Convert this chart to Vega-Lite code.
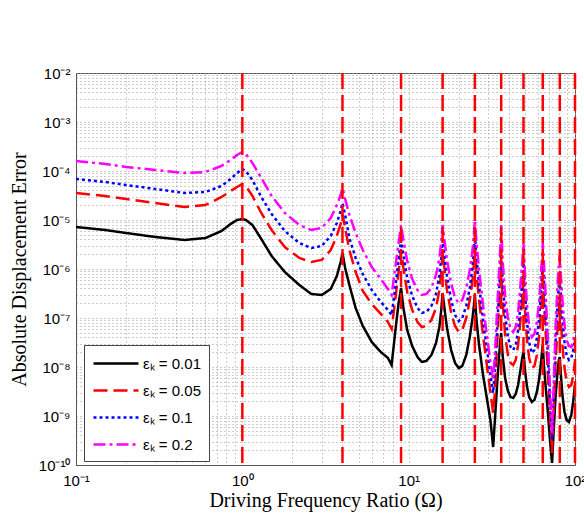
{
  "$schema": "https://vega.github.io/schema/vega-lite/v6.json",
  "width": 499,
  "height": 392,
  "autosize": {"type": "none"},
  "padding": {"left": 76, "top": 73, "right": 9, "bottom": 52},
  "background": "white",
  "config": {
    "view": {"stroke": "#555", "strokeWidth": 1},
    "axis": {
      "labelFont": "Liberation Sans",
      "labelFontSize": 15,
      "labelColor": "#000",
      "labelOverlap": false,
      "labelFlush": false,
      "ticks": false,
      "domainColor": "#555",
      "grid": true,
      "gridDash": [1, 3],
      "gridColor": "#999",
      "gridWidth": 1,
      "titleFont": "Liberation Serif",
      "titleFontSize": 20,
      "titleFontWeight": "normal",
      "titleColor": "#000"
    }
  },
  "datasets": {
    "curves": [
      {"w":0.1,"a":7.2e-6,"b":3.56e-5,"c":6.87e-5,"d":1.6e-4},
      {"w":0.15,"a":6.25e-6,"b":3.09e-5,"c":5.96e-5,"d":1.39e-4},
      {"w":0.2,"a":5.43e-6,"b":2.68e-5,"c":5.18e-5,"d":1.21e-4},
      {"w":0.3,"a":4.5e-6,"b":2.22e-5,"c":4.29e-5,"d":1.05e-4},
      {"w":0.45,"a":3.91e-6,"b":1.84e-5,"c":3.56e-5,"d":9.1e-5},
      {"w":0.6,"a":4.29e-6,"b":2.02e-5,"c":3.73e-5,"d":9.54e-5},
      {"w":0.75,"a":5.96e-6,"b":2.95e-5,"c":4.94e-5,"d":1.27e-4},
      {"w":0.85,"a":8.29e-6,"b":3.91e-5,"c":6.87e-5,"d":1.68e-4},
      {"w":0.93,"a":1e-5,"b":4.72e-5,"c":9.1e-5,"d":2.12e-4},
      {"w":1,"a":1.05e-5,"b":5.43e-5,"c":1.1e-4,"d":2.44e-4},
      {"w":1.05,"a":1e-5,"b":4.94e-5,"c":1e-4,"d":2.22e-4},
      {"w":1.15,"a":7.91e-6,"b":3.09e-5,"c":6.55e-5,"d":1.46e-4},
      {"w":1.3,"a":4.1e-6,"b":1.39e-5,"c":2.95e-5,"d":7.2e-5},
      {"w":1.5,"a":1.84e-6,"b":6.25e-6,"c":1.33e-5,"d":3.09e-5},
      {"w":1.8,"a":8.69e-7,"b":2.81e-6,"c":5.96e-6,"d":1.39e-5},
      {"w":2.2,"a":4.72e-7,"b":1.68e-6,"c":3.39e-6,"d":7.91e-6},
      {"w":2.6,"a":3.09e-7,"b":1.39e-6,"c":2.68e-6,"d":6.25e-6},
      {"w":3.0,"a":2.95e-7,"b":1.53e-6,"c":2.95e-6,"d":6.87e-6},
      {"w":3.4,"a":3.91e-7,"b":2.44e-6,"c":4.72e-6,"d":1.1e-5},
      {"w":3.7,"a":7.2e-7,"b":4.72e-6,"c":8.69e-6,"d":2.02e-5},
      {"w":3.9,"a":1.39e-6,"b":8.29e-6,"c":1.53e-5,"d":3.24e-5},
      {"w":4,"a":2.12e-6,"b":1.33e-5,"c":2.22e-5,"d":4.5e-5},
      {"w":4.15,"a":1.05e-6,"b":6.87e-6,"c":1.27e-5,"d":2.68e-5},
      {"w":4.4,"a":4.72e-7,"b":2.44e-6,"c":4.29e-6,"d":1.27e-5},
      {"w":4.8,"a":1.6e-7,"b":8.69e-7,"c":1.68e-6,"d":5.43e-6},
      {"w":5.3,"a":6.87e-8,"b":3.56e-7,"c":7.91e-7,"d":2.44e-6},
      {"w":6,"a":3.24e-8,"b":1.93e-7,"c":3.73e-7,"d":1.1e-6},
      {"w":6.8,"a":2.02e-8,"b":1.21e-7,"c":2.12e-7,"d":6.25e-7},
      {"w":7.5,"a":1.53e-8,"b":8.29e-8,"c":1.46e-7,"d":3.91e-7},
      {"w":7.9,"a":1.1e-8,"b":5.96e-8,"c":1.15e-7,"d":2.95e-7},
      {"w":8.3,"a":5.18e-8,"b":2.33e-7,"c":4.1e-7,"d":1.05e-6},
      {"w":8.7,"a":2.02e-7,"b":8.69e-7,"c":1.53e-6,"d":3.39e-6},
      {"w":9,"a":4.1e-7,"b":2.44e-6,"c":3.91e-6,"d":7.91e-6},
      {"w":9.3,"a":1.6e-7,"b":1.05e-6,"c":1.93e-6,"d":3.91e-6},
      {"w":9.8,"a":5.69e-8,"b":3.39e-7,"c":6.55e-7,"d":1.46e-6},
      {"w":10.5,"a":2.68e-8,"b":1.46e-7,"c":2.81e-7,"d":6.25e-7},
      {"w":11.3,"a":1.6e-8,"b":8.29e-8,"c":1.6e-7,"d":3.73e-7},
      {"w":12,"a":1.27e-8,"b":6.55e-8,"c":1.27e-7,"d":2.95e-7},
      {"w":12.8,"a":1.33e-8,"b":6.87e-8,"c":1.33e-7,"d":3.09e-7},
      {"w":13.7,"a":1.76e-8,"b":9.1e-8,"c":1.76e-7,"d":4.1e-7},
      {"w":14.6,"a":3.09e-8,"b":1.6e-7,"c":3.09e-7,"d":7.54e-7},
      {"w":15.3,"a":6.55e-8,"b":3.73e-7,"c":7.54e-7,"d":1.68e-6},
      {"w":15.7,"a":1.46e-7,"b":8.69e-7,"c":1.68e-6,"d":3.56e-6},
      {"w":16,"a":3.24e-7,"b":2.22e-6,"c":3.91e-6,"d":7.91e-6},
      {"w":16.4,"a":1.6e-7,"b":1.05e-6,"c":1.93e-6,"d":3.91e-6},
      {"w":17,"a":6.25e-8,"b":3.73e-7,"c":7.2e-7,"d":1.53e-6},
      {"w":18,"a":2.22e-8,"b":1.27e-7,"c":2.33e-7,"d":5.18e-7},
      {"w":19,"a":1.21e-8,"b":6.87e-8,"c":1.15e-7,"d":2.56e-7},
      {"w":20,"a":9.54e-9,"b":5.18e-8,"c":8.69e-8,"d":2.02e-7},
      {"w":21,"a":1.05e-8,"b":5.69e-8,"c":1e-7,"d":2.33e-7},
      {"w":22.2,"a":1.76e-8,"b":1e-7,"c":1.76e-7,"d":4.1e-7},
      {"w":23.3,"a":4.1e-8,"b":2.33e-7,"c":4.1e-7,"d":9.54e-7},
      {"w":24.2,"a":1e-7,"b":5.96e-7,"c":1.1e-6,"d":2.44e-6},
      {"w":24.7,"a":1.84e-7,"b":1.39e-6,"c":2.68e-6,"d":5.43e-6},
      {"w":25,"a":2.95e-7,"b":3.09e-6,"c":5.69e-6,"d":1e-5},
      {"w":25.5,"a":1e-7,"b":9.54e-7,"c":1.93e-6,"d":3.91e-6},
      {"w":26.5,"a":2.81e-8,"b":2.33e-7,"c":4.72e-7,"d":9.54e-7},
      {"w":28,"a":6.87e-9,"b":4.5e-8,"c":9.1e-8,"d":1.84e-7},
      {"w":29.5,"a":2.33e-9,"b":1.1e-8,"c":2.44e-8,"d":4.5e-8},
      {"w":31,"a":8.29e-10,"b":3.09e-9,"c":7.2e-9,"d":1.27e-8},
      {"w":32.2,"a":2.33e-10,"b":1.15e-9,"c":2.95e-9,"d":5.43e-9},
      {"w":33,"a":8.29e-10,"b":3.09e-9,"c":8.69e-9,"d":1.76e-8},
      {"w":34,"a":4.29e-9,"b":2.81e-8,"c":5.69e-8,"d":1.46e-7},
      {"w":35,"a":1.76e-8,"b":1.84e-7,"c":3.73e-7,"d":9.54e-7},
      {"w":35.6,"a":3.56e-8,"b":5.18e-7,"c":1.21e-6,"d":3.09e-6},
      {"w":36,"a":4.94e-8,"b":1.21e-6,"c":3.09e-6,"d":7.91e-6},
      {"w":36.7,"a":1.76e-8,"b":2.33e-7,"c":5.96e-7,"d":1.53e-6},
      {"w":38,"a":5.96e-9,"b":4.5e-8,"c":1.15e-7,"d":2.95e-7},
      {"w":39.5,"a":3.24e-9,"b":1.76e-8,"c":4.1e-8,"d":1e-7},
      {"w":41,"a":2.44e-9,"b":1.21e-8,"c":2.56e-8,"d":5.96e-8},
      {"w":42.5,"a":2.33e-9,"b":1.1e-8,"c":2.22e-8,"d":5.18e-8},
      {"w":44,"a":2.81e-9,"b":1.39e-8,"c":2.81e-8,"d":6.55e-8},
      {"w":45.5,"a":4.29e-9,"b":2.81e-8,"c":5.69e-8,"d":1.33e-7},
      {"w":47,"a":8.69e-9,"b":9.1e-8,"c":1.84e-7,"d":4.72e-7},
      {"w":48.2,"a":1.53e-8,"b":2.56e-7,"c":5.96e-7,"d":1.39e-6},
      {"w":49,"a":2.02e-8,"b":5.96e-7,"c":1.53e-6,"d":3.39e-6},
      {"w":50,"a":8.69e-9,"b":1.46e-7,"c":3.73e-7,"d":8.69e-7},
      {"w":51.5,"a":3.91e-9,"b":3.56e-8,"c":8.29e-8,"d":1.84e-7},
      {"w":53,"a":2.44e-9,"b":1.53e-8,"c":3.24e-8,"d":6.87e-8},
      {"w":55,"a":1.93e-9,"b":9.54e-9,"c":1.93e-8,"d":4.1e-8},
      {"w":57,"a":2.12e-9,"b":1.05e-8,"c":2.22e-8,"d":4.72e-8},
      {"w":59,"a":3.09e-9,"b":1.76e-8,"c":3.91e-8,"d":8.29e-8},
      {"w":61,"a":5.96e-9,"b":4.5e-8,"c":1e-7,"d":2.33e-7},
      {"w":62.5,"a":1.27e-8,"b":1.46e-7,"c":3.73e-7,"d":8.69e-7},
      {"w":63.5,"a":2.22e-8,"b":3.39e-7,"c":8.69e-7,"d":1.93e-6},
      {"w":64,"a":2.81e-8,"b":5.96e-7,"c":1.53e-6,"d":3.39e-6},
      {"w":65,"a":1.1e-8,"b":2.33e-7,"c":5.96e-7,"d":1.39e-6},
      {"w":66.5,"a":4.29e-9,"b":5.69e-8,"c":1.46e-7,"d":3.39e-7},
      {"w":68.5,"a":1.33e-9,"b":8.69e-9,"c":2.22e-8,"d":4.5e-8},
      {"w":70.5,"a":3.73e-10,"b":1.33e-9,"c":2.68e-9,"d":4.72e-9},
      {"w":72.8,"a":1.1e-10,"b":1.76e-10,"c":3.24e-10,"d":4.5e-10},
      {"w":74.5,"a":5.18e-10,"b":1.33e-9,"c":2.68e-9,"d":4.29e-9},
      {"w":76.5,"a":2.68e-9,"b":1.39e-8,"c":3.56e-8,"d":7.2e-8},
      {"w":78.5,"a":7.91e-9,"b":5.69e-8,"c":1.84e-7,"d":4.72e-7},
      {"w":80,"a":1.39e-8,"b":1.46e-7,"c":4.72e-7,"d":1.21e-6},
      {"w":81,"a":1.6e-8,"b":2.33e-7,"c":7.54e-7,"d":1.93e-6},
      {"w":82,"a":7.91e-9,"b":1e-7,"c":3.39e-7,"d":8.69e-7},
      {"w":84,"a":2.68e-9,"b":2.81e-8,"c":9.1e-8,"d":2.33e-7},
      {"w":86.5,"a":1.21e-9,"b":9.54e-9,"c":3.24e-8,"d":7.2e-8},
      {"w":89,"a":8.29e-10,"b":5.18e-9,"c":1.76e-8,"d":3.56e-8},
      {"w":92,"a":7.54e-10,"b":3.91e-9,"c":1.39e-8,"d":2.68e-8},
      {"w":95,"a":1.05e-9,"b":4.29e-9,"c":1.53e-8,"d":2.56e-8},
      {"w":97.5,"a":1.93e-9,"b":6.55e-9,"c":2.22e-8,"d":3.24e-8},
      {"w":100,"a":4.29e-9,"b":1.27e-8,"c":3.91e-8,"d":5.18e-8}
    ],
    "res": [
      {"w":1},{"w":4},{"w":9},{"w":16},{"w":25},{"w":36},{"w":49},{"w":64},{"w":81},{"w":100}
    ]
  },
  "layer": [
    {
      "data": {"name": "curves"},
      "transform": [{"fold": ["a", "b", "c", "d"], "as": ["s", "v"]}],
      "mark": {"type": "line", "strokeWidth": 2.5, "clip": true},
      "encoding": {
        "x": {
          "field": "w", "type": "quantitative",
          "scale": {"type": "log", "domain": [0.1, 100], "nice": false},
          "axis": {
            "title": "Driving Frequency Ratio (Ω)",
            "titlePadding": 2,
            "labelPadding": 8,
            "values": [0.1,0.2,0.3,0.4,0.5,0.6,0.7,0.8,0.9,1,2,3,4,5,6,7,8,9,10,20,30,40,50,60,70,80,90,100],
            "labelExpr": "datum.value==0.1?'10⁻¹':datum.value==1?'10⁰':datum.value==10?'10¹':datum.value==100?'10²':''"
          }
        },
        "y": {
          "field": "v", "type": "quantitative",
          "scale": {"type": "log", "domain": [1e-10, 1e-2], "nice": false},
          "axis": {
            "title": "Absolute Displacement Error",
            "titlePadding": 9,
            "labelPadding": 6,
            "values": [1e-10,2e-10,3e-10,4e-10,5e-10,6e-10,7e-10,8e-10,9e-10,1e-9,2e-9,3e-9,4e-9,5e-9,6e-9,7e-9,8e-9,9e-9,1e-8,2e-8,3e-8,4e-8,5e-8,6e-8,7e-8,8e-8,9e-8,1e-7,2e-7,3e-7,4e-7,5e-7,6e-7,7e-7,8e-7,9e-7,1e-6,2e-6,3e-6,4e-6,5e-6,6e-6,7e-6,8e-6,9e-6,1e-5,2e-5,3e-5,4e-5,5e-5,6e-5,7e-5,8e-5,9e-5,1e-4,2e-4,3e-4,4e-4,5e-4,6e-4,7e-4,8e-4,9e-4,1e-3,2e-3,3e-3,4e-3,5e-3,6e-3,7e-3,8e-3,9e-3,1e-2],
            "labelExpr": "datum.value==1e-2?'10⁻²':datum.value==1e-3?'10⁻³':datum.value==1e-4?'10⁻⁴':datum.value==1e-5?'10⁻⁵':datum.value==1e-6?'10⁻⁶':datum.value==1e-7?'10⁻⁷':datum.value==1e-8?'10⁻⁸':datum.value==1e-9?'10⁻⁹':datum.value==1e-10?'10⁻¹⁰':''"
          }
        },
        "color": {
          "field": "s", "type": "nominal",
          "scale": {"domain": ["a", "b", "c", "d"], "range": ["#000000", "#ff0000", "#0000ff", "#ff00ff"]},
          "legend": {
            "title": null, "orient": "none", "legendX": 8, "legendY": 272,
            "symbolType": "M-1,0H4", "symbolSize": 324, "symbolStrokeWidth": 2.5,
            "labelOffset": 30,
            "labelFont": "Liberation Sans", "labelFontSize": 15, "labelColor": "#000",
            "padding": 8, "rowPadding": 8, "fillColor": "white", "strokeColor": "#444",
            "labelExpr": "datum.label=='a'?'εₖ = 0.01':datum.label=='b'?'εₖ = 0.05':datum.label=='c'?'εₖ = 0.1':'εₖ = 0.2'"
          }
        },
        "strokeDash": {
          "field": "s", "type": "nominal",
          "scale": {"domain": ["a", "b", "c", "d"], "range": [[1, 0], [14, 6], [3, 3], [12, 4, 3, 4]]},
          "legend": {
            "title": null, "orient": "none", "legendX": 8, "legendY": 272,
            "symbolType": "M-1,0H4", "symbolSize": 324, "symbolStrokeWidth": 2.5,
            "labelOffset": 30,
            "labelFont": "Liberation Sans", "labelFontSize": 15, "labelColor": "#000",
            "padding": 8, "rowPadding": 8, "fillColor": "white", "strokeColor": "#444",
            "labelExpr": "datum.label=='a'?'εₖ = 0.01':datum.label=='b'?'εₖ = 0.05':datum.label=='c'?'εₖ = 0.1':'εₖ = 0.2'"
          }
        }
      }
    },
    {
      "data": {"name": "res"},
      "mark": {"type": "rule", "color": "#ff0000", "strokeWidth": 2.5, "strokeDash": [16, 6]},
      "encoding": {"x": {"field": "w", "type": "quantitative"}}
    }
  ]
}
